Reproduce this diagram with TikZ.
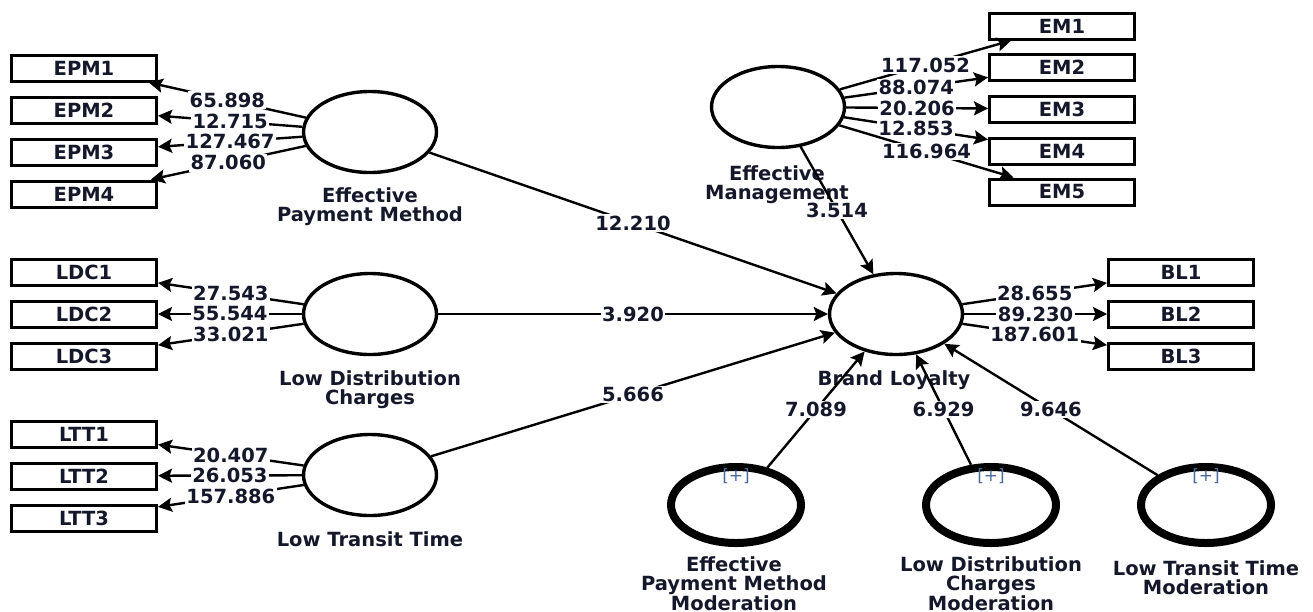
\documentclass[tikz,border=0pt]{standalone}
\usepackage{fontspec}
\setmainfont{DejaVu Sans}
\usetikzlibrary{shapes.geometric,arrows.meta}
\definecolor{txt}{HTML}{14182A}
\definecolor{plus}{HTML}{4A6A9A}
\begin{document}
\begin{tikzpicture}[x=1pt,y=-1pt,
  font=\fontsize{19.5}{19}\selectfont\bfseries,
  ind/.style={draw, line width=3pt, minimum width=145pt, minimum height=26pt, inner sep=0pt, text=txt},
  lv/.style={draw, ellipse, line width=3.4pt, minimum width=133pt, minimum height=81pt, inner sep=0pt},
  modlv/.style={draw, ellipse, line width=8pt, minimum width=130pt, minimum height=76pt, inner sep=0pt},
  lvname/.style={align=center, inner sep=0pt, text=txt},
  plusmark/.style={font=\fontsize{17}{17}\selectfont, text=plus, inner sep=0pt},
  conn/.style={line width=2.4pt, -{Stealth[length=14pt,width=14pt,inset=2.5pt]}},
  lab/.style={fill=white, inner sep=1.5pt, text=txt}]
\useasboundingbox (0,0) rectangle (1313,611);
% indicators
\node[ind] (epm1) at (84,68) {EPM1};
\node[ind] (epm2) at (84,110) {EPM2};
\node[ind] (epm3) at (84,152) {EPM3};
\node[ind] (epm4) at (84,194) {EPM4};
\node[ind] (ldc1) at (84,272) {LDC1};
\node[ind] (ldc2) at (84,314) {LDC2};
\node[ind] (ldc3) at (84,356) {LDC3};
\node[ind] (ltt1) at (84,434) {LTT1};
\node[ind] (ltt2) at (84,476) {LTT2};
\node[ind] (ltt3) at (84,518) {LTT3};
\node[ind] (em1) at (1062,26) {EM1};
\node[ind] (em2) at (1062,67) {EM2};
\node[ind] (em3) at (1062,109) {EM3};
\node[ind] (em4) at (1062,151) {EM4};
\node[ind] (em5) at (1062,192) {EM5};
\node[ind] (bl1) at (1181,272) {BL1};
\node[ind] (bl2) at (1181,314) {BL2};
\node[ind] (bl3) at (1181,356) {BL3};
% latent variables
\node[lv] (epm) at (370,132) {};
\node[lv] (ldc) at (370,314) {};
\node[lv] (ltt) at (370,475) {};
\node[lv] (em) at (778,107) {};
\node[lv] (bl) at (896,314) {};
\node[modlv] (epmm) at (736,505) {};
\node[modlv] (ldcm) at (991,505) {};
\node[modlv] (lttm) at (1206,505) {};
\node[plusmark] (p1) at (736,476) {[+]};
\node[plusmark] (p2) at (991,476) {[+]};
\node[plusmark] (p3) at (1206,476) {[+]};
% names
\node[lvname] (nepm) at (370,207) {Effective\\Payment Method};
\node[lvname] (nldc) at (370,390) {Low Distribution\\Charges};
\node[lvname] (nltt) at (370,539) {Low Transit Time};
\node[lvname] (nem) at (777,185) {Effective\\Management};
\node[lvname] (nbl) at (894,380) {Brand Loyalty};
\node[lvname] (nepmm) at (734,584) {Effective\\Payment Method\\Moderation};
\node[lvname] (nldcm) at (991,584) {Low Distribution\\Charges\\Moderation};
\node[lvname] (nlttm) at (1206,578) {Low Transit Time\\Moderation};
% loadings
\draw[conn] (epm) -- node[lab] {65.898} (epm1);
\draw[conn] (epm) -- node[lab] {12.715} (epm2);
\draw[conn] (epm) -- node[lab] {127.467} (epm3);
\draw[conn] (epm) -- node[lab] {87.060} (epm4);
\draw[conn] (ldc) -- node[lab] {27.543} (ldc1);
\draw[conn] (ldc) -- node[lab] {55.544} (ldc2);
\draw[conn] (ldc) -- node[lab] {33.021} (ldc3);
\draw[conn] (ltt) -- node[lab] {20.407} (ltt1);
\draw[conn] (ltt) -- node[lab] {26.053} (ltt2);
\draw[conn] (ltt) -- node[lab] {157.886} (ltt3);
\draw[conn] (em) -- node[lab] {117.052} (em1);
\draw[conn] (em) -- node[lab] {88.074} (em2);
\draw[conn] (em) -- node[lab] {20.206} (em3);
\draw[conn] (em) -- node[lab] {12.853} (em4);
\draw[conn] (em) -- node[lab] {116.964} (em5);
\draw[conn] (bl) -- node[lab] {28.655} (bl1);
\draw[conn] (bl) -- node[lab] {89.230} (bl2);
\draw[conn] (bl) -- node[lab] {187.601} (bl3);
% structural paths
\draw[conn] (epm) -- node[lab] {12.210} (bl);
\draw[conn] (ldc) -- node[lab] {3.920} (bl);
\draw[conn] (ltt) -- node[lab] {5.666} (bl);
\draw[conn] (em) -- node[lab] {3.514} (bl);
\draw[conn] (epmm) -- node[lab] {7.089} (bl);
\draw[conn] (ldcm) -- node[lab] {6.929} (bl);
\draw[conn] (lttm) -- node[lab] {9.646} (bl);
\end{tikzpicture}
\end{document}
